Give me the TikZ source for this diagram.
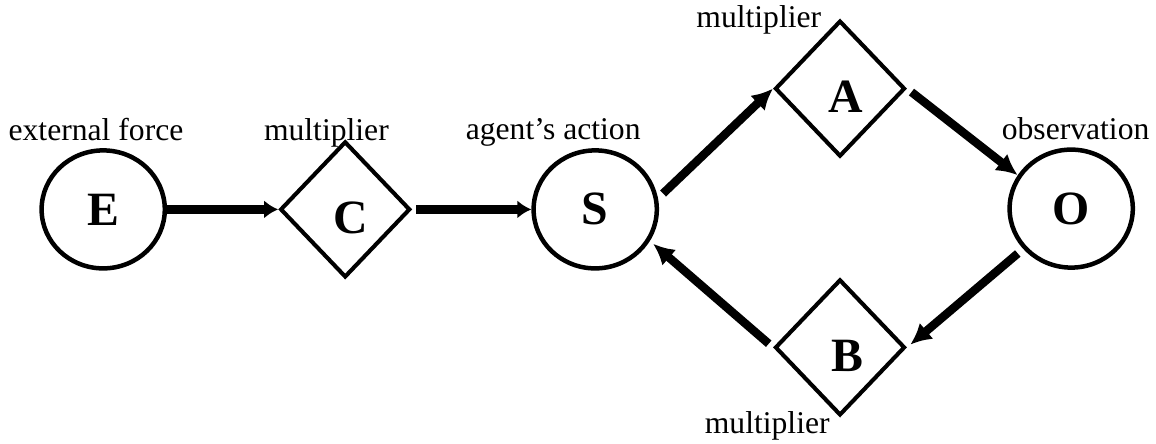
\documentclass[tikz,border=0pt]{standalone}
\usepackage{fontspec}
\setmainfont{Liberation Serif}
\usetikzlibrary{shapes.geometric}
\usetikzlibrary{arrows.meta}
\tikzset{
	state/.style={ellipse, draw, line width=3.2pt, minimum width=3.08cm, minimum height=2.95cm, inner sep=0pt, font=\fontsize{34}{40}\selectfont\bfseries},
	gate/.style={diamond, draw, line width=2.9pt, minimum width=3.25cm, minimum height=3.4cm, inner sep=0pt, text width=1.16cm, align=right, text height=1.21cm, text depth=0pt, font=\fontsize{34}{40}\selectfont\bfseries},
	tag/.style={anchor=base, inner sep=0pt, font=\fontsize{22.5}{27}\selectfont},
	flow/.style={line width=6.3pt, -{Latex[length=10pt,width=13pt]}},
	feedback/.style={line width=6pt, -{Latex[length=15pt,width=15pt]}}
}

\begin{document}
\begin{tikzpicture}
	\useasboundingbox (0,0) rectangle (28.9,11.075);

	\node[state] (E) at (2.58,5.84) {E};
	\node[gate] (C) at (8.63,5.84) {C};
	\node[state] (S) at (14.88,5.84) {S};
	\node[gate] (A) at (21,8.86) {A};
	\node[state] (O) at (26.78,5.86) {O};
	\node[gate] (B) at (21,2.39) {B};


	\node[tag] (lblE) at (2.4,7.575) {external force};
	\node[tag] (lblC) at (8.16,7.575) {multiplier};
	\node[tag] (lblS) at (13.83,7.6) {agent’s action};
	\node[tag] (lblO) at (26.89,7.6) {observation};
	\node[tag] (lblA) at (18.97,10.375) {multiplier};
	\node[tag] (lblB) at (19.18,0.25) {multiplier};


	\draw[flow] (E) -- (C);
	\draw[flow, shorten <=3pt] (C) -- (S);

	\draw[feedback, shorten <=5pt] (S.10) -- (A.west);
	\draw[feedback, shorten <=4pt] (A.east) -- (O.148);
	\draw[feedback, shorten <=5pt, shorten >=3pt] (O.220) -- (B.east);
	\draw[feedback, shorten <=4pt, shorten >=3pt] (B.west) -- (S.-30);
\end{tikzpicture}
\end{document}
